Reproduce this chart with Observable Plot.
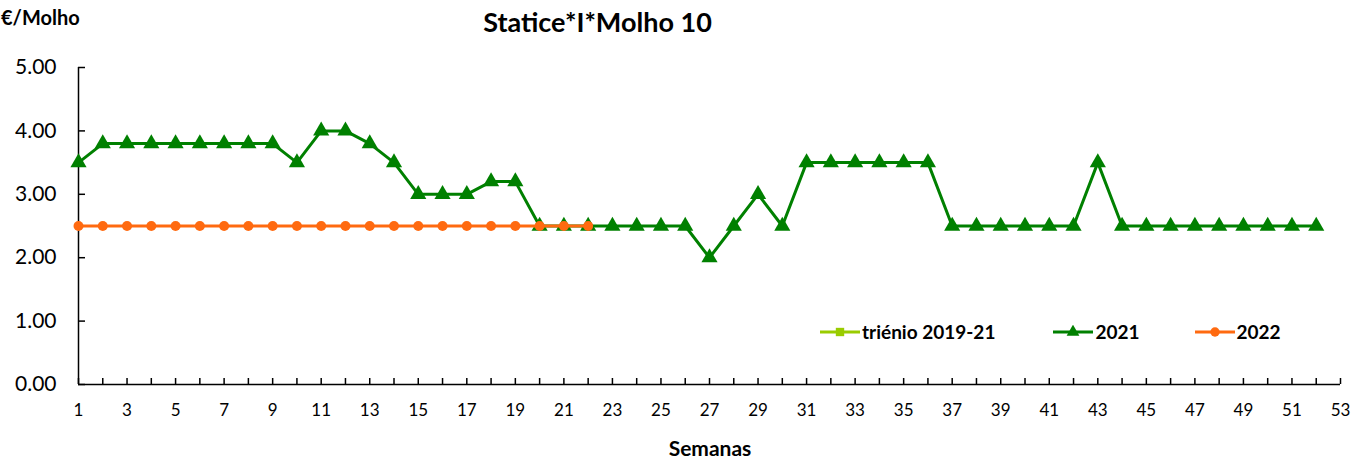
<!DOCTYPE html>
<html>
<head>
<meta charset="utf-8">
<script src="https://cdn.jsdelivr.net/npm/d3@7"></script>
<script src="https://cdn.jsdelivr.net/npm/@observablehq/plot@0.6"></script>
<style>
  html, body { margin: 0; padding: 0; background: #fff; overflow: hidden; }
  #wrap { position: relative; width: 1365px; height: 459px; font-family: Lato, "Open Sans", sans-serif; overflow: hidden; }
  #title { position: absolute; top: 8px; left: 0; width: 1195px; text-align: center; font-weight: bold; font-size: 27px; line-height: 1; color: #000; }
  #ylab { position: absolute; top: 7px; left: 1px; font-weight: bold; font-size: 20px; line-height: 1; white-space: nowrap; }
  #xlab { position: absolute; top: 437px; left: 0; width: 1420px; text-align: center; font-weight: bold; font-size: 21px; line-height: 1; }
  #legend { position: absolute; top: 322px; left: 820px; display: flex; font-weight: bold; font-size: 19px; line-height: 1; align-items: center; }
  #legend .item { display: flex; align-items: center; }
  #legend svg { display: block; }
</style>
</head>
<body>
<div id="wrap">
  <div id="chart"></div>
  <div id="title"></div>
  <div id="ylab"></div>
  <div id="xlab"></div>
  <div id="legend"></div>
</div>
<script>
const titleText = "Statice*I*Molho 10";
const yLabel = "€/Molho";
const xLabel = "Semanas";
const weeks = d3.range(1, 53);               // 1..52
const weekTicks = d3.range(1, 54);           // 1..53
const weekLabels = d3.range(1, 54, 2);       // odd labels
const yTicks = [0, 1, 2, 3, 4, 5];
const seriesNames = ["triénio 2019-21", "2021", "2022"];
const seriesColors = ["#99cc00", "#008000", "#ff6a10"];

const values2021 = [3.5, 3.8, 3.8, 3.8, 3.8, 3.8, 3.8, 3.8, 3.8, 3.5,
                    4.0, 4.0, 3.8, 3.5, 3.0, 3.0, 3.0, 3.2, 3.2, 2.5,
                    2.5, 2.5, 2.5, 2.5, 2.5, 2.5, 2.0, 2.5, 3.0, 2.5,
                    3.5, 3.5, 3.5, 3.5, 3.5, 3.5, 2.5, 2.5, 2.5, 2.5,
                    2.5, 2.5, 3.5, 2.5, 2.5, 2.5, 2.5, 2.5, 2.5, 2.5,
                    2.5, 2.5];
const values2022 = [2.5, 2.5, 2.5, 2.5, 2.5, 2.5, 2.5, 2.5, 2.5, 2.5,
                    2.5, 2.5, 2.5, 2.5, 2.5, 2.5, 2.5, 2.5, 2.5, 2.5,
                    2.5, 2.5];
const valuesTrienio = [];

const d2021 = values2021.map((v, i) => ({week: weeks[i], value: v}));
const d2022 = values2022.map((v, i) => ({week: weeks[i], value: v}));

const chart = Plot.plot({
  width: 1365,
  height: 459,
  marginLeft: 78,
  marginRight: 25,
  marginTop: 67,
  marginBottom: 75,
  style: {fontFamily: "Lato, 'Open Sans', sans-serif", fontSize: "17px", color: "#000", background: "#fff"},
  x: {domain: [1, 53]},
  y: {domain: [0, 5]},
  marks: [
    Plot.axisY({ticks: yTicks, tickSize: 0, tickPadding: 22, tickFormat: d => d.toFixed(2), label: null, fontSize: 21}),
    Plot.axisY({ticks: yTicks, tickSize: -7, tickFormat: () => "", label: null, strokeWidth: 1.5}),
    Plot.axisX({ticks: weekLabels, tickSize: 0, tickPadding: 19, label: null, fontSize: 17}),
    Plot.axisX({ticks: weekTicks, tickSize: -6, tickFormat: () => "", label: null, strokeWidth: 1.5}),
    Plot.ruleY([0], {stroke: "#000", strokeWidth: 1.5}),
    Plot.ruleX([1], {stroke: "#000", strokeWidth: 1.5}),
    Plot.line(d2021, {x: "week", y: "value", stroke: seriesColors[1], strokeWidth: 3}),
    Plot.dot(d2021, {x: "week", y: "value", symbol: "triangle", fill: seriesColors[1], r: 6}),
    Plot.line(d2022, {x: "week", y: "value", stroke: seriesColors[2], strokeWidth: 3}),
    Plot.dot(d2022, {x: "week", y: "value", symbol: "circle", fill: seriesColors[2], r: 5})
  ]
});
document.getElementById("chart").appendChild(chart);
document.getElementById("title").textContent = titleText;
document.getElementById("ylab").textContent = yLabel;
document.getElementById("xlab").textContent = xLabel;

const symbols = ["square", "triangle", "circle"];
const gaps = [58, 55, 0];
const legend = document.getElementById("legend");
seriesNames.forEach((name, i) => {
  const item = document.createElement("div");
  item.className = "item";
  item.style.marginRight = gaps[i] + "px";
  const sw = d3.create("svg").attr("width", 40).attr("height", 14);
  sw.append("line").attr("x1", 0).attr("x2", 40).attr("y1", 7).attr("y2", 7)
    .attr("stroke", seriesColors[i]).attr("stroke-width", 3);
  sw.append("path").attr("transform", "translate(20,7)")
    .attr("d", d3.symbol(symbols[i] === "square" ? d3.symbolSquare : symbols[i] === "triangle" ? d3.symbolTriangle : d3.symbolCircle, 70)())
    .attr("fill", seriesColors[i]);
  item.appendChild(sw.node());
  const t = document.createElement("span");
  t.textContent = name;
  t.style.marginLeft = "2px";
  item.appendChild(t);
  legend.appendChild(item);
});
</script>
</body>
</html>
